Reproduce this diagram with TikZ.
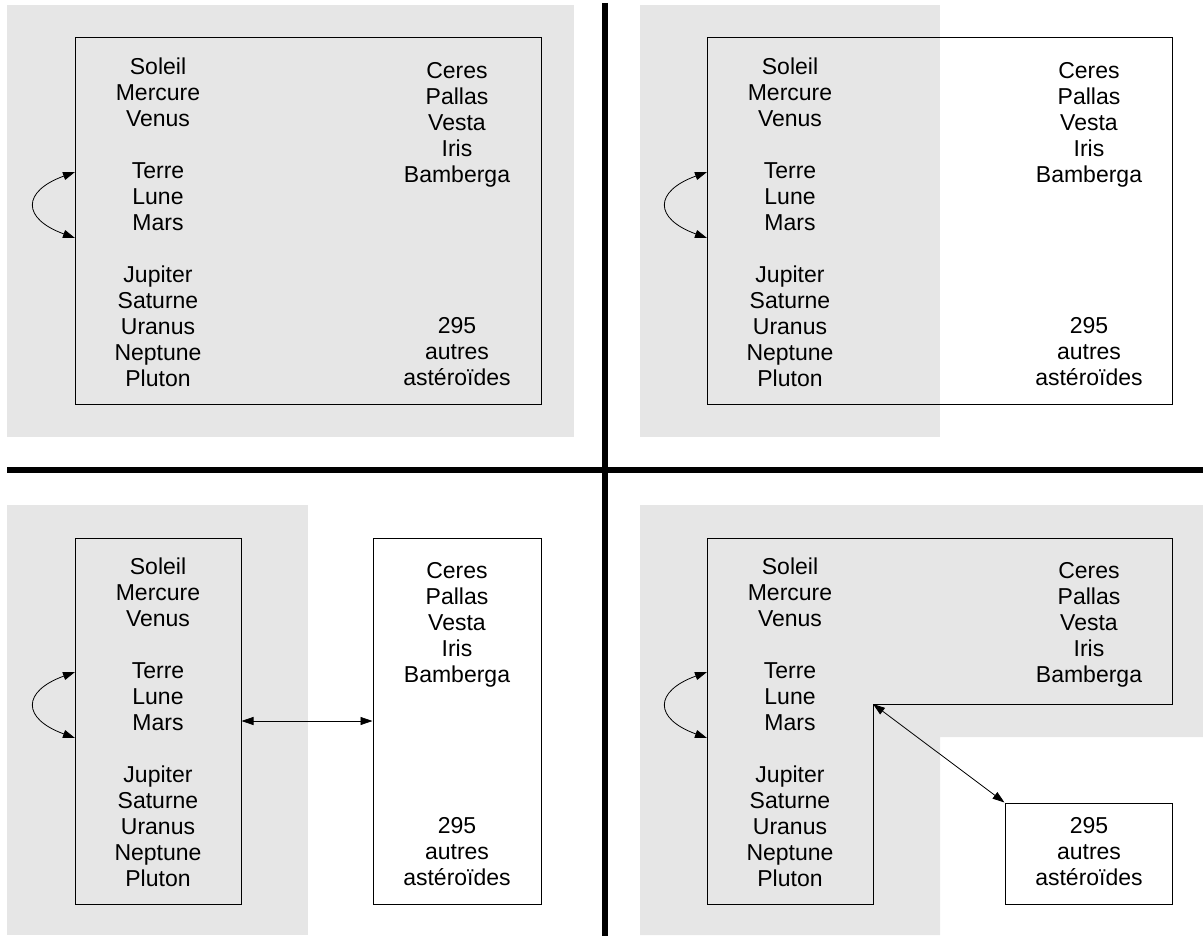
\documentclass[tikz,border=0pt]{standalone}
\usepackage{fontspec}
\setmainfont{Liberation Sans}
\usetikzlibrary{arrows.meta}
\definecolor{panelgray}{RGB}{230,230,230}
\tikzset{
  bg/.style={fill=panelgray, draw=none},
  box/.style={draw=black, line width=1pt, inner sep=0pt},
  whitebox/.style={box, fill=white},
  txt/.style={align=center, inner sep=0pt, font=\fontsize{23}{26}\selectfont},
  sep/.style={line width=5.5pt, black},
  link/.style={line width=0.8pt, {Triangle[length=12pt,width=8pt]}-{Triangle[length=12pt,width=8pt]}},
  swap/.style={link, out=200, in=160, looseness=2.2}
}
\newcommand{\planets}{Soleil\\Mercure\\Venus\\[26pt]Terre\\Lune\\Mars\\[26pt]Jupiter\\Saturne\\Uranus\\Neptune\\Pluton}
\newcommand{\asteroids}{Ceres\\Pallas\\Vesta\\Iris\\Bamberga}
\newcommand{\others}{295\\autres\\astéroïdes}
\begin{document}
\begin{tikzpicture}[x=1pt,y=1pt]
\useasboundingbox (0,0) rectangle (1203,-939);
% backgrounds
\fill[bg] (7,-5) rectangle (574,-437);
\fill[bg] (640,-5) rectangle (940,-437);
\fill[bg] (7,-505) rectangle (308,-935);
\fill[bg] (640,-505) -- (1203,-505) -- (1203,-737) -- (940,-737) -- (940,-935) -- (640,-935) -- cycle;
% separators
\draw[sep] (605,-3) -- (605,-936);
\draw[sep] (7,-470) -- (1203,-470);

% ---------- top-left ----------
\node[box, minimum width=466pt, minimum height=366pt] (tlbox) at (308,-221) {};
\node[txt] (tlplan) at (158,-222) {\planets};
\node[txt] (tlast) at (457,-125) {\asteroids};
\node[txt] (tloth) at (457,-352) {\others};
\coordinate (tla) at (75,-172);
\coordinate (tlb) at (75,-238);
\draw[swap] (tla) to (tlb);

% ---------- top-right ----------
\node[box, minimum width=465pt, minimum height=366pt] (trbox) at (939.5,-221) {};
\node[txt] (trplan) at (790,-222) {\planets};
\node[txt] (trast) at (1089,-125) {\asteroids};
\node[txt] (troth) at (1089,-352) {\others};
\coordinate (tra) at (707,-172);
\coordinate (trb) at (707,-238);
\draw[swap] (tra) to (trb);

% ---------- bottom-left ----------
\node[box, minimum width=166pt, minimum height=366pt] (blleft) at (158,-721) {};
\node[whitebox, minimum width=168pt, minimum height=366pt] (blright) at (457,-721) {};
\node[txt] (blplan) at (158,-722) {\planets};
\node[txt] (blast) at (457,-625) {\asteroids};
\node[txt] (bloth) at (457,-852) {\others};
\coordinate (bla) at (75,-672);
\coordinate (blb) at (75,-738);
\draw[swap] (bla) to (blb);
\draw[link] (blleft.east) -- (blright.west);

% ---------- bottom-right ----------
\draw[line width=1pt] (707,-538) -- (1172,-538) -- (1172,-704) -- (873,-704) -- (873,-904) -- (707,-904) -- cycle;
\coordinate (brcorner) at (873,-704);
\node[whitebox, minimum width=167pt, minimum height=101pt] (brsmall) at (1088.5,-853.5) {};
\node[txt] (brplan) at (790,-722) {\planets};
\node[txt] (brast) at (1089,-625) {\asteroids};
\node[txt] (broth) at (1089,-852) {\others};
\coordinate (bra) at (707,-672);
\coordinate (brb) at (707,-738);
\draw[swap] (bra) to (brb);
\draw[link] (brcorner) -- (brsmall.north west);
\end{tikzpicture}
\end{document}
